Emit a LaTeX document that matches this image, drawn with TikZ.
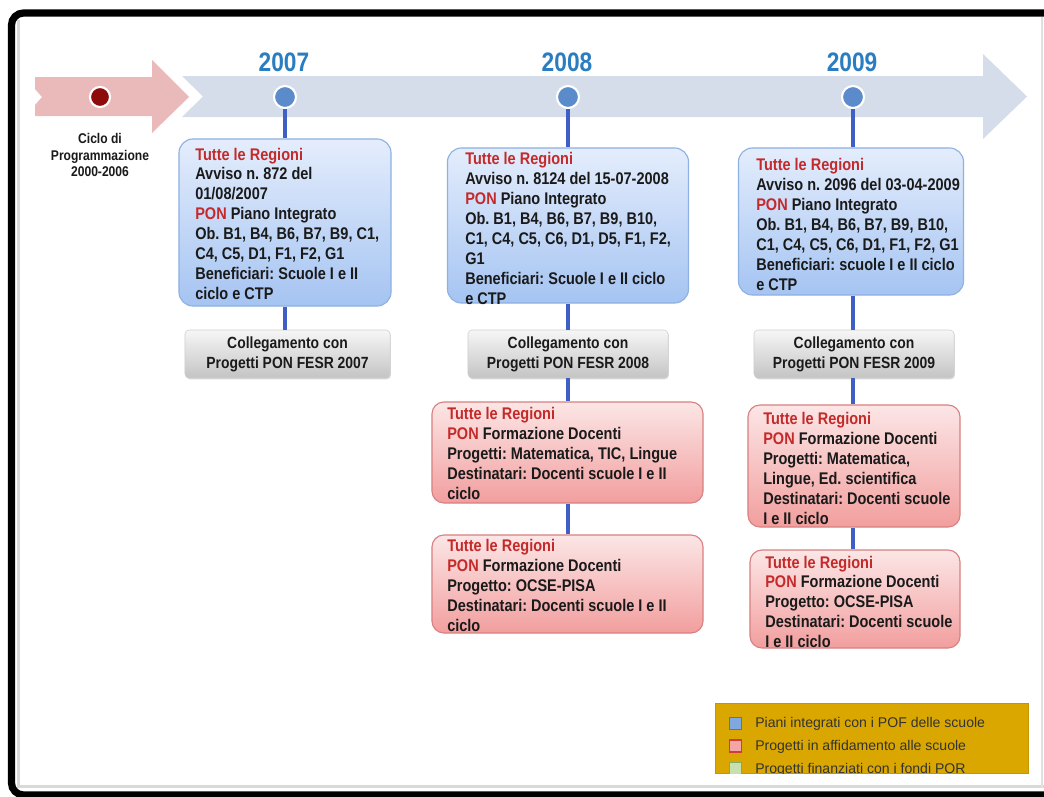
\documentclass[tikz,border=0pt]{standalone}
\usepackage{fontspec}
\setmainfont{Liberation Sans}
\newfontfamily\narrowsf[FakeStretch=0.86]{Liberation Sans}
\newfontfamily\yearsf[FakeStretch=0.85]{Liberation Sans}
\usetikzlibrary{shadows}
\frenchspacing

\definecolor{arrowpink}{HTML}{EABABA}
\definecolor{arrowblue}{HTML}{D5DCEA}
\definecolor{dotred}{HTML}{8E0B0B}
\definecolor{dotblue}{HTML}{5B8BCB}
\definecolor{yearblue}{HTML}{2A7DC1}
\definecolor{stemblue}{HTML}{3F5FC4}
\definecolor{textred}{HTML}{C42A2A}
\definecolor{textdark}{HTML}{1A1A1A}
\definecolor{bluetop}{HTML}{E4EDFC}
\definecolor{bluebot}{HTML}{A5C4F2}
\definecolor{blueedge}{HTML}{8DB1E2}
\definecolor{pinktop}{HTML}{FCE6E6}
\definecolor{pinkbot}{HTML}{F29E9E}
\definecolor{pinkedge}{HTML}{D98080}
\definecolor{graytop}{HTML}{F6F6F6}
\definecolor{graybot}{HTML}{C4C4C4}
\definecolor{grayedge}{HTML}{D0D0D0}
\definecolor{legendgold}{HTML}{DAA700}
\definecolor{legendtext}{HTML}{333333}
\definecolor{sqblue}{HTML}{7FA8DE}
\definecolor{sqblueedge}{HTML}{4A78C0}
\definecolor{sqred}{HTML}{F4A6A6}
\definecolor{sqrededge}{HTML}{D03C3C}
\definecolor{sqgreen}{HTML}{C8E0B0}
\definecolor{sqgreenedge}{HTML}{80A868}

\newcommand{\boxfont}{\narrowsf\bfseries\fontsize{12}{14.2}\selectfont}
\newcommand{\grayfont}{\narrowsf\bfseries\fontsize{11.5}{14.2}\selectfont}
\newcommand{\regioni}{\textcolor{textred}{Tutte le Regioni}}
\newcommand{\pon}{\textcolor{textred}{PON}}

\tikzstyle{bluebox}=[rectangle,draw=blueedge,line width=0.8pt,top color=bluetop,bottom color=bluebot,rounded corners=0.35cm,inner sep=0pt]
\tikzstyle{pinkbox}=[rectangle,draw=pinkedge,line width=0.8pt,top color=pinktop,bottom color=pinkbot,rounded corners=0.3cm,inner sep=0pt]
\tikzstyle{graybox}=[rectangle,draw=grayedge,line width=0.4pt,top color=graytop,bottom color=graybot,rounded corners=0.1cm,drop shadow={shadow xshift=0.6pt,shadow yshift=-0.9pt,opacity=0.3},align=center,font=\grayfont,text=textdark,minimum width=5cm,minimum height=1.2cm,inner sep=0pt]
\tikzstyle{boxtext}=[anchor=north west,inner sep=0pt,align=left,font=\boxfont,text=textdark]
\tikzstyle{yearlabel}=[font=\yearsf\bfseries\fontsize{19}{19}\selectfont,text=yearblue]
\tikzstyle{milestone}=[circle,draw=white,line width=1.5pt,inner sep=0pt,minimum size=0.55cm,fill=dotblue]
\tikzstyle{stemline}=[line width=2.7pt,draw=stemblue]
\tikzstyle{legsq}=[rectangle,line width=1pt,minimum size=0.3cm,inner sep=0pt]
\tikzstyle{legtext}=[anchor=base west,inner sep=0pt,font=\fontsize{10}{12}\selectfont,text=legendtext]

\begin{document}
\begin{tikzpicture}[x=0.025cm,y=-0.025cm]
	\def \colA {285};
	\def \colB {568};
	\def \colC {853};

	\useasboundingbox (0,0) rectangle (1044,796);
	\clip (0,0) rectangle (1044,796);
	\fill[white] (0,0) rectangle (1044,796);

	% slide frame
	\draw[black!15,line width=2.5pt] (18.5,20) -- (18.5,786.5) -- (1044,786.5);
	\draw[black!12,line width=0.8pt] (1042,17) -- (1042,788);
	\draw[black,line width=0.18cm,rounded corners=0.3cm] (11.5,13) rectangle (1090,795);

	% timeline arrows
	\fill[arrowblue] (182,76) -- (983,76) -- (983,54) -- (1027,96.5) -- (983,139) -- (983,117) -- (182,117) -- (203,96.5) -- cycle;
	\fill[arrowpink] (35,77) -- (152,77) -- (152,60) -- (189,97) -- (152,133) -- (152,116) -- (35,116) -- (35,105) -- (42,97) -- (35,89) -- cycle;

	\node[milestone,fill=dotred,minimum size=0.5cm] (d00) at (100,97) {};
	\node[milestone] (d07) at (\colA,97) {};
	\node[milestone] (d08) at (\colB,97) {};
	\node[milestone] (d09) at (\colC,97) {};

	\node[align=center,font=\narrowsf\bfseries\fontsize{10}{12}\selectfont,text=textdark] (ciclo) at (100,155) {Ciclo di\\Programmazione\\2000-2006};

	\node[yearlabel] (y07) at (284,62.5) {2007};
	\node[yearlabel] (y08) at (567,62.5) {2008};
	\node[yearlabel] (y09) at (852,62.5) {2009};

	% 2007
	\node[bluebox,minimum width=5.3cm,minimum height=4.175cm] (b07) at (285,222.5) {};
	\node[boxtext] (t07) at (195,147.5) {\regioni\\Avviso n. 872 del\\01/08/2007\\\pon{} Piano Integrato\\Ob. B1, B4, B6, B7, B9, C1,\\C4, C5, D1, F1, F2, G1\\Beneficiari: Scuole I e II\\ciclo e CTP};
	\node[graybox,minimum width=5.125cm] (g07) at (287.5,354) {Collegamento con\\Progetti PON FESR 2007};

	% 2008
	\node[bluebox,minimum width=6.025cm,minimum height=3.875cm] (b08) at (568,225.5) {};
	\node[boxtext] (t08) at (465,152) {\regioni\\Avviso n. 8124 del 15-07-2008\\\pon{} Piano Integrato\\Ob. B1, B4, B6, B7, B9, B10,\\C1, C4, C5, C6, D1, D5, F1, F2,\\G1\\Beneficiari: Scuole I e II ciclo\\e CTP};
	\node[graybox] (g08) at (568,354) {Collegamento con\\Progetti PON FESR 2008};
	\node[pinkbox,minimum width=6.775cm,minimum height=2.525cm] (p08a) at (567.5,452.5) {};
	\node[boxtext] (q08a) at (447,407) {\regioni\\\pon{} Formazione Docenti\\Progetti: Matematica, TIC, Lingue\\Destinatari: Docenti scuole I e II\\ciclo};
	\node[pinkbox,minimum width=6.775cm,minimum height=2.45cm] (p08b) at (567.5,584) {};
	\node[boxtext] (q08b) at (447,539) {\regioni\\\pon{} Formazione Docenti\\Progetto: OCSE-PISA\\Destinatari: Docenti scuole I e II\\ciclo};

	% 2009
	\node[bluebox,minimum width=5.625cm,minimum height=3.675cm] (b09) at (851,221.5) {};
	\node[boxtext] (t09) at (756,158) {\regioni\\Avviso n. 2096 del 03-04-2009\\\pon{} Piano Integrato\\Ob. B1, B4, B6, B7, B9, B10,\\C1, C4, C5, C6, D1, F1, F2, G1\\Beneficiari: scuole I e II ciclo\\e CTP};
	\node[graybox] (g09) at (854,354) {Collegamento con\\Progetti PON FESR 2009};
	\node[pinkbox,minimum width=5.3cm,minimum height=3.05cm] (p09a) at (854,466) {};
	\node[boxtext] (q09a) at (763,412) {\regioni\\\pon{} Formazione Docenti\\Progetti: Matematica,\\Lingue, Ed. scientifica\\Destinatari: Docenti scuole\\I e II ciclo};
	\node[pinkbox,minimum width=5.25cm,minimum height=2.45cm] (p09b) at (855,599) {};
	\node[boxtext] (q09b) at (765,555.5) {\regioni\\\pon{} Formazione Docenti\\Progetto: OCSE-PISA\\Destinatari: Docenti scuole\\I e II ciclo};

	% stems
	\draw[stemline] (d07) -- (d07 |- b07.north);
	\draw[stemline] (b07.south -| d07) -- (d07 |- g07.north);
	\draw[stemline] (d08) -- (d08 |- b08.north);
	\draw[stemline] (b08.south -| d08) -- (d08 |- g08.north);
	\draw[stemline] (g08.south -| d08) -- (d08 |- p08a.north);
	\draw[stemline] (p08a.south -| d08) -- (d08 |- p08b.north);
	\draw[stemline] (d09) -- (d09 |- b09.north);
	\draw[stemline] (b09.south -| d09) -- (d09 |- g09.north);
	\draw[stemline] (g09.south -| d09) -- (d09 |- p09a.north);
	\draw[stemline] (p09a.south -| d09) -- (d09 |- p09b.north);

	% legend
	\node[rectangle,fill=legendgold,draw=legendgold!90!black,line width=0.4pt,minimum width=7.825cm,minimum height=1.75cm,inner sep=0pt] (leg) at (871.5,738) {};
	\begin{scope}
		\clip (leg.north west) rectangle (leg.south east);
		\node[legsq,fill=sqblue,draw=sqblueedge] (k1) at (735.5,723.5) {};
		\node[legtext] (l1) at (755,727) {Piani integrati con i POF delle scuole};
		\node[legsq,fill=sqred,draw=sqrededge] (k2) at (735.5,746) {};
		\node[legtext] (l2) at (755,750.5) {Progetti in affidamento alle scuole};
		\node[legsq,fill=sqgreen,draw=sqgreenedge] (k3) at (735.5,768.5) {};
		\node[legtext] (l3) at (755,773.5) {Progetti finanziati con i fondi POR};
	\end{scope}
\end{tikzpicture}
\end{document}
